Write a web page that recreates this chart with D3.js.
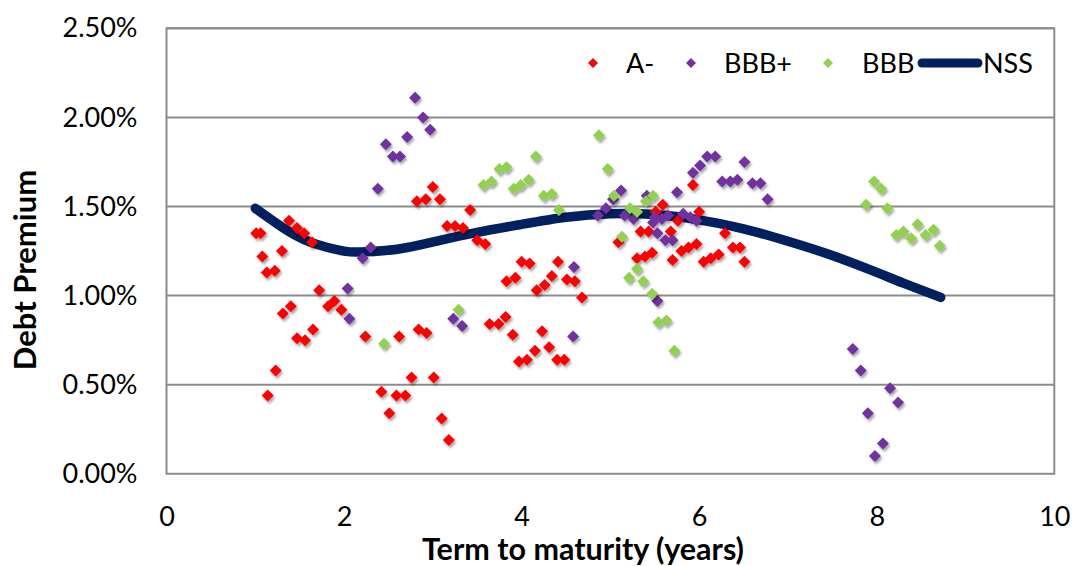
<!DOCTYPE html>
<html>
<head>
<meta charset="utf-8">
<script src="https://cdn.jsdelivr.net/npm/d3@7"></script>
<style>
  body { margin: 0; background: #fff; }
  text { font-family: Lato, "Open Sans", sans-serif; fill: #000; }
</style>
</head>
<body>
<svg id="canvas"></svg>
<script>
// term (years), premium (%)
let aMinus = [
  [1.01,1.35],[1.06,1.35],[1.08,1.22],[1.13,1.13],[1.22,1.14],[1.14,0.44],[1.23,0.58],[1.30,1.25],
  [1.31,0.90],[1.40,0.94],[1.38,1.42],[1.47,1.38],[1.55,1.35],[1.64,1.30],[1.47,0.76],[1.56,0.75],
  [1.65,0.81],[1.72,1.03],[1.82,0.94],[1.89,0.97],[1.97,0.92],[2.24,0.77],[2.42,0.46],[2.51,0.34],
  [2.59,0.44],[2.69,0.44],[2.62,0.77],[2.76,0.54],[2.84,0.81],[2.93,0.79],[2.82,1.53],[2.92,1.54],
  [3.00,1.61],[3.08,1.54],[3.01,0.54],[3.10,0.31],[3.18,0.19],[3.16,1.39],[3.25,1.39],[3.34,1.38],
  [3.42,1.48],[3.50,1.31],[3.59,1.29],[3.64,0.84],[3.74,0.84],[3.82,0.88],[3.90,0.78],[3.83,1.08],
  [3.93,1.10],[3.97,0.63],[4.06,0.64],[4.00,1.19],[4.09,1.18],[4.15,0.69],[4.17,1.03],[4.23,0.80],
  [4.26,1.06],[4.31,0.71],[4.34,1.11],[4.40,0.64],[4.41,1.19],[4.48,0.64],[4.51,1.09],[4.60,1.08],
  [4.68,0.99],[5.09,1.30],[5.30,1.21],[5.34,1.36],[5.39,1.22],[5.43,1.36],[5.47,1.24],[5.51,1.47],
  [5.59,1.51],[5.68,1.36],[5.70,1.20],[5.76,1.42],[5.80,1.25],[5.88,1.27],[5.93,1.62],[5.97,1.29],
  [6.00,1.47],[6.05,1.19],[6.13,1.21],[6.22,1.23],[6.29,1.35],[6.38,1.27],[6.46,1.27],[6.51,1.19]
];

let bbbPlus = [
  [2.04,1.04],[2.06,0.87],[2.21,1.21],[2.30,1.27],[2.38,1.60],[2.47,1.85],[2.55,1.78],[2.63,1.78],
  [2.71,1.89],[2.80,2.11],[2.89,2.00],[2.97,1.93],[3.23,0.87],[3.33,0.83],[4.58,0.77],[4.59,1.16],
  [4.86,1.45],[4.95,1.49],[5.03,1.54],[5.12,1.59],[5.16,1.45],[5.26,1.43],[5.41,1.56],[5.48,1.41],
  [5.50,1.44],[5.53,1.35],[5.53,0.97],[5.58,1.43],[5.62,1.31],[5.65,1.45],[5.70,1.31],[5.75,1.58],
  [5.82,1.46],[5.90,1.44],[5.93,1.69],[5.97,1.42],[6.01,1.73],[6.09,1.78],[6.18,1.78],[6.26,1.64],
  [6.35,1.64],[6.43,1.65],[6.51,1.75],[6.60,1.63],[6.69,1.63],[6.77,1.54],
  [7.73,0.70],[7.82,0.58],[8.15,0.48],[8.24,0.40],[7.90,0.34],[8.07,0.17],[7.98,0.10]
];

let bbb = [
  [2.45,0.73],[3.29,0.92],[3.57,1.62],[3.66,1.64],[3.75,1.71],[3.83,1.72],[3.91,1.60],[3.99,1.62],
  [4.08,1.65],[4.16,1.78],[4.25,1.56],[4.34,1.57],[4.42,1.48],[4.87,1.90],[4.97,1.71],[5.04,1.56],
  [5.13,1.33],[5.22,1.49],[5.30,1.47],[5.40,1.53],[5.48,1.56],[5.30,1.15],[5.21,1.10],[5.37,1.08],
  [5.47,1.01],[5.54,0.85],[5.63,0.86],[5.72,0.69],
  [7.97,1.64],[8.05,1.60],[7.88,1.51],[8.12,1.49],[8.46,1.40],[8.22,1.34],[8.30,1.36],[8.39,1.32],
  [8.55,1.34],[8.64,1.37],[8.71,1.28]
];

let nss = [
  [1.00,1.49],[1.30,1.385],[1.62,1.30],[2.00,1.25],[2.20,1.245],[2.60,1.26],[3.08,1.31],[3.50,1.355],
  [4.00,1.40],[4.50,1.44],[5.00,1.46],[5.50,1.455],[6.00,1.425],[6.50,1.375],[7.00,1.305],
  [7.50,1.225],[8.00,1.13],[8.30,1.07],[8.72,0.99]
];

let xTicks = [0, 2, 4, 6, 8, 10];
let yTicks = [0, 0.5, 1.0, 1.5, 2.0, 2.5];

let seriesNames = ['A-', 'BBB+', 'BBB', 'NSS'];
let colors = { 'A-': '#ff0000', 'BBB+': '#7030a0', 'BBB': '#92d050', 'NSS': '#002060' };

let width = 1072;
let height = 566;
let plotLeft = 166.5, plotRight = 1054.3, plotTop = 28.3, plotBottom = 473.8;

let canvas = d3.select('#canvas').attr('width', width).attr('height', height);

let defs = canvas.append('defs');
defs.append('filter').attr('id', 'shadow')
  .attr('x', '-50%').attr('y', '-50%').attr('width', '200%').attr('height', '200%')
  .append('feDropShadow')
  .attr('dx', 1.5).attr('dy', 2.5).attr('stdDeviation', 1.3)
  .attr('flood-color', '#000').attr('flood-opacity', 0.35);

let xScale = d3.scaleLinear().domain([0, 10]).range([plotLeft, plotRight]);
let yScale = d3.scaleLinear().domain([0, 2.5]).range([plotBottom, plotTop]);

// gridlines
canvas.append('g').selectAll('line')
  .data(yTicks.slice(1))
  .enter().append('line')
  .attr('x1', plotLeft).attr('x2', plotRight)
  .attr('y1', d => yScale(d)).attr('y2', d => yScale(d))
  .attr('stroke', '#8c8c8c').attr('stroke-width', 2);

// plot border
canvas.append('rect')
  .attr('x', plotLeft).attr('y', plotTop)
  .attr('width', plotRight - plotLeft).attr('height', plotBottom - plotTop)
  .attr('fill', 'none').attr('stroke', '#8c8c8c').attr('stroke-width', 2);

// axes (labels only)
let xAxis = d3.axisBottom(xScale).tickValues(xTicks).tickSize(0).tickPadding(33).tickFormat(d3.format('d'));
let yAxis = d3.axisLeft(yScale).tickValues(yTicks).tickSize(0).tickPadding(29).tickFormat(d => d3.format('.2f')(d) + '%');

canvas.append('g')
  .attr('transform', 'translate(0,' + plotBottom + ')')
  .call(xAxis)
  .call(g => g.select('.domain').remove())
  .selectAll('text')
  .attr('font-size', 27).attr('font-family', 'Lato, sans-serif').attr('fill', '#000');

canvas.append('g')
  .attr('transform', 'translate(' + plotLeft + ',0)')
  .call(yAxis)
  .call(g => g.select('.domain').remove())
  .selectAll('text')
  .attr('font-size', 27).attr('font-family', 'Lato, sans-serif').attr('fill', '#000');

// axis titles
canvas.append('text')
  .attr('x', 583).attr('y', 560)
  .attr('text-anchor', 'middle')
  .attr('font-size', 30.5).attr('font-weight', 'bold')
  .text('Term to maturity (years)');

canvas.append('text')
  .attr('transform', 'translate(36,270) rotate(-90)')
  .attr('text-anchor', 'middle')
  .attr('font-size', 31).attr('font-weight', 'bold')
  .text('Debt Premium');

// NSS curve
let line = d3.line()
  .x(d => xScale(d[0]))
  .y(d => yScale(d[1]))
  .curve(d3.curveNatural);

canvas.append('path')
  .datum(nss)
  .attr('d', line)
  .attr('fill', 'none')
  .attr('stroke', colors['NSS'])
  .attr('stroke-width', 9.5)
  .attr('stroke-linecap', 'round')
  .attr('stroke-linejoin', 'round');

// diamond marker
let diamond = {
  draw: (ctx, size) => {
    let r = Math.sqrt(size / 2);
    ctx.moveTo(0, -r);
    ctx.lineTo(r, 0);
    ctx.lineTo(0, r);
    ctx.lineTo(-r, 0);
    ctx.closePath();
  }
};

let drawPoints = (data, name) => {
  canvas.append('g')
    .attr('filter', 'url(#shadow)')
    .selectAll('path')
    .data(data)
    .enter().append('path')
    .attr('d', d3.symbol().type(diamond).size(72))
    .attr('transform', d => 'translate(' + xScale(d[0]) + ',' + yScale(d[1]) + ')')
    .attr('fill', colors[name]);
};

drawPoints(aMinus, 'A-');
drawPoints(bbbPlus, 'BBB+');
drawPoints(bbb, 'BBB');

// legend
let legendY = 63;
let legendItems = [
  { name: 'A-', mx: 593, tx: 626 },
  { name: 'BBB+', mx: 691, tx: 724 },
  { name: 'BBB', mx: 828, tx: 862 }
];

let legend = canvas.append('g');
legendItems.forEach(item => {
  legend.append('path')
    .attr('d', d3.symbol().type(diamond).size(50))
    .attr('transform', 'translate(' + item.mx + ',' + legendY + ')')
    .attr('fill', colors[item.name]);
  legend.append('text')
    .attr('x', item.tx).attr('y', legendY + 10)
    .attr('font-size', 27)
    .text(item.name);
});

legend.append('line')
  .attr('x1', 922).attr('x2', 978)
  .attr('y1', legendY).attr('y2', legendY)
  .attr('stroke', colors['NSS']).attr('stroke-width', 9)
  .attr('stroke-linecap', 'round');

legend.append('text')
  .attr('x', 983).attr('y', legendY + 10)
  .attr('font-size', 27)
  .text('NSS');
</script>
</body>
</html>
